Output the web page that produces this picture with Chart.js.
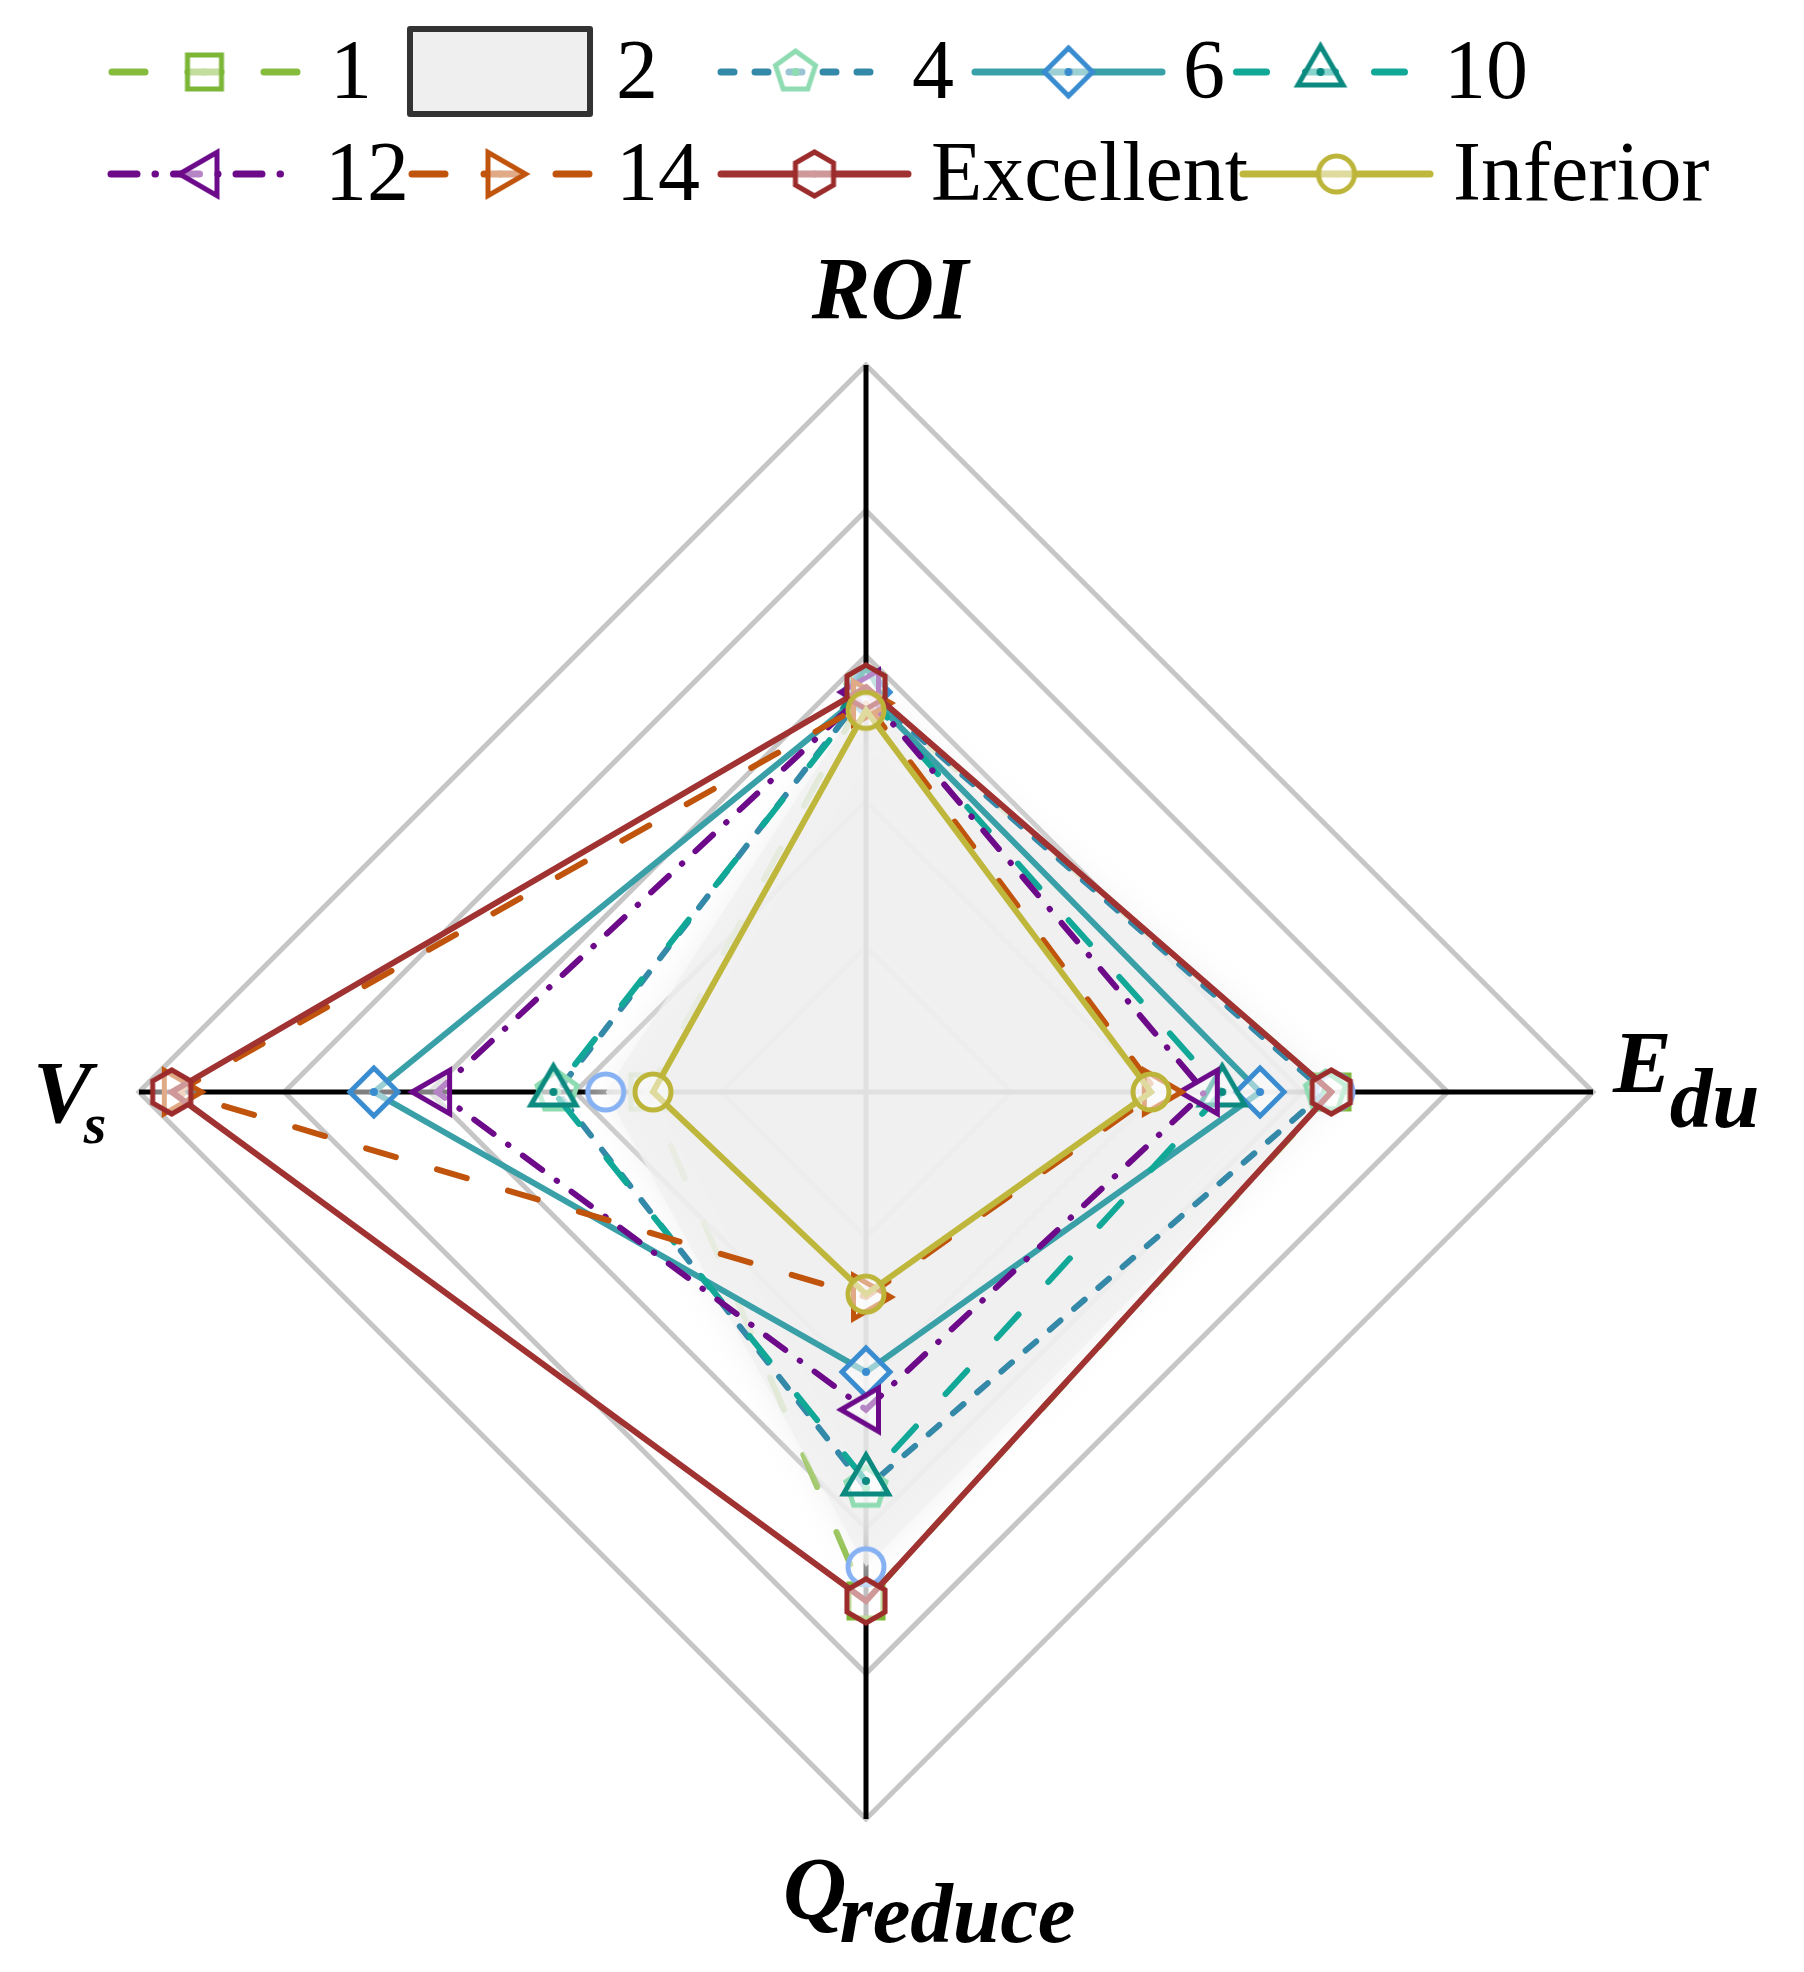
<!DOCTYPE html>
<html>
<head>
<meta charset="utf-8">
<script src="https://cdn.jsdelivr.net/npm/chart.js@4.4.1/dist/chart.umd.min.js"></script>
<style>
    html, body { margin: 0; padding: 0; background: #fff; }
    #wrap { position: relative; width: 1804px; height: 1972px; }
    #chart { position: absolute; left: 0; top: 0; }
    .sw { position: absolute; }
    .box { position: absolute; box-sizing: border-box; border: 6px solid #333; background: #efefef; border-radius: 3px; }
    .lt { position: absolute; font-family: "Liberation Serif", "Times New Roman", serif; font-size: 84px; line-height: 1; color: #000; white-space: nowrap; }
</style>
</head>
<body>
<div id="wrap">
    <canvas id="chart" width="1804" height="1972"></canvas>
    <div id="legend"></div>
</div>
<script>
// 軸ラベル (時計回り、上から)
const labels = ['ROI', 'Edu', 'Qreduce', 'Vs'];
const labelParts = [['ROI', ''], ['E', 'du'], ['Q', 'reduce'], ['V', 's']];
const gridTicks = [0, 0.2, 0.4, 0.6, 0.8, 1.0];

// 系列名
const seriesNames = ['1', '2', '4', '6', '10', '12', '14', 'Excellent', 'Inferior'];

// 各系列の値 [ROI, Edu, Qreduce, Vs]
const s1 = [0.55, 0.641, 0.70, 0.30];
const s2 = [0.55, 0.645, 0.653, 0.358];
const s4 = [0.552, 0.632, 0.545, 0.425];
const s6 = [0.55, 0.542, 0.385, 0.677];
const s10 = [0.548, 0.49, 0.535, 0.43];
const s12 = [0.55, 0.466, 0.437, 0.59];
const s14 = [0.535, 0.40, 0.282, 0.948];
const sExcellent = [0.557, 0.64, 0.70, 0.955];
const sInferior = [0.525, 0.392, 0.278, 0.293];

const seriesData = [s1, s2, s4, s6, s10, s12, s14, sExcellent, sInferior];

// 線とマーカーのスタイル (dash: グラフ用, ldash: 凡例用)
const styles = [
    { color: '#86bc3c', dash: [35, 49], ldash: [33, 43], marker: 'square', mcolor: '#7cb637' },
    { fill: 'rgba(240,240,240,0.75)', marker: 'circle', mcolor: '#86b2f4' },
    { color: '#3589a8', dash: [14, 18], ldash: [13, 21], marker: 'pentagon', mcolor: '#8fdcb2', dot: true },
    { color: '#3aa0a8', dash: [], ldash: [], marker: 'diamond', mcolor: '#3a8cd0', dot: true },
    { color: '#12a898', dash: [32, 44], ldash: [30, 39], marker: 'triangle', mcolor: '#0c8a80', dot: true },
    { color: '#6c0a8a', dash: [24, 18, 0.5, 18], ldash: [26, 18, 0.5, 18], fromLeft: true, marker: 'triLeft', mcolor: '#6c0a8a' },
    { color: '#c0540c', dash: [31, 43], ldash: [33, 39], marker: 'triRight', mcolor: '#c0540c' },
    { color: '#a03232', dash: [], ldash: [], marker: 'hexagon', mcolor: '#9c2c2c' },
    { color: '#bfb63c', dash: [], ldash: [], marker: 'circle', mcolor: '#bdb43a' }
];

// 凡例の配置 [swatch x, row y, text x]
const legendPos = [
    [107, 72, 330], [407, 72, 616], [698, 72, 912], [971, 72, 1183], [1223, 72, 1444],
    [107, 174, 325], [403, 174, 616], [717, 174, 931], [1239, 174, 1453]
];

// マーカーの形を描く関数
function markerPath(ctx, shape, x, y) {
    ctx.beginPath();
    if (shape === 'circle') {
        ctx.arc(x, y, 18, 0, Math.PI * 2);
    } else if (shape === 'square') {
        ctx.rect(x - 17, y - 17, 34, 34);
    } else {
        let n, r, a0;
        if (shape === 'diamond') { n = 4; r = 24; a0 = -90; }
        else if (shape === 'pentagon') { n = 5; r = 21; a0 = -90; }
        else if (shape === 'hexagon') { n = 6; r = 22; a0 = -90; }
        else if (shape === 'triangle') { n = 3; r = 26; a0 = -90; }
        else if (shape === 'triLeft') { n = 3; r = 25; a0 = 180; }
        else { n = 3; r = 25; a0 = 0; }
        for (let k = 0; k < n; k++) {
            const a = (a0 + 360 * k / n) * Math.PI / 180;
            const px = x + r * Math.cos(a), py = y + r * Math.sin(a);
            if (k === 0) ctx.moveTo(px, py); else ctx.lineTo(px, py);
        }
        ctx.closePath();
    }
}

// マーカー画像を作る関数
function makeMarker(st) {
    const c = document.createElement('canvas');
    c.width = 64; c.height = 64;
    const ctx = c.getContext('2d');
    markerPath(ctx, st.marker, 32, 32);
    ctx.fillStyle = 'rgba(255,255,255,0.5)';
    ctx.fill();
    ctx.lineWidth = 5;
    ctx.strokeStyle = st.mcolor;
    ctx.stroke();
    if (st.dot) {
        ctx.beginPath();
        ctx.arc(32, 32, 4, 0, Math.PI * 2);
        ctx.fillStyle = st.mcolor;
        ctx.fill();
    }
    return c;
}

const markers = styles.map(makeMarker);

// 凡例を作る
const legend = document.getElementById('legend');
seriesNames.forEach((name, i) => {
    const st = styles[i];
    const p = legendPos[i];
    if (st.fill) {
        const box = document.createElement('div');
        box.className = 'box';
        box.style.left = p[0] + 'px';
        box.style.top = (p[1] - 46) + 'px';
        box.style.width = '186px';
        box.style.height = '91px';
        legend.appendChild(box);
    } else {
        const c = document.createElement('canvas');
        c.className = 'sw';
        c.width = 195; c.height = 64;
        c.style.left = p[0] + 'px';
        c.style.top = (p[1] - 32) + 'px';
        const ctx = c.getContext('2d');
        ctx.strokeStyle = st.color;
        ctx.lineWidth = 7;
        ctx.lineCap = 'round';
        ctx.setLineDash(st.ldash);
        if (st.fromLeft) {
            // 左端から
            ctx.beginPath(); ctx.moveTo(4, 32); ctx.lineTo(191, 32); ctx.stroke();
        } else {
            // 中心から左右へ
            ctx.lineDashOffset = st.ldash.length ? st.ldash[0] / 2 : 0;
            ctx.beginPath(); ctx.moveTo(97.5, 32); ctx.lineTo(191, 32); ctx.stroke();
            ctx.beginPath(); ctx.moveTo(97.5, 32); ctx.lineTo(4, 32); ctx.stroke();
        }
        ctx.setLineDash([]);
        ctx.drawImage(markers[i], 97.5 - 32, 0);
        legend.appendChild(c);
    }
    const t = document.createElement('div');
    t.className = 'lt';
    t.textContent = name;
    t.style.left = p[2] + 'px';
    t.style.top = (p[1] + 26 - 70) + 'px';
    legend.appendChild(t);
});

// 塗りつぶし (系列2) のぼかし
const softFillPlugin = {
    id: 'softFill',
    afterDatasetDraw(chart, args) {
        // 系列2の直前に描かれる系列1の後で影を設定 -> filler がそのまま使う
        if (args.index === 0) {
            chart.ctx.shadowColor = 'rgba(236,236,236,1)';
            chart.ctx.shadowBlur = 34;
        }
    },
    beforeDatasetDraw(chart, args) {
        if (args.index === 1) {
            chart.ctx.shadowColor = 'rgba(0,0,0,0)';
            chart.ctx.shadowBlur = 0;
        }
    }
};

// 軸ラベル (下付き文字あり) を描くプラグイン
const axisLabelPlugin = {
    id: 'axisLabels',
    afterDraw(chart) {
        const scale = chart.scales.r;
        const ctx = chart.ctx;
        const pos = labels.map((l, i) => scale.getPointPosition(i, scale.drawingArea));
        const big = 'italic bold 88px "Liberation Serif"';
        ctx.save();
        ctx.fillStyle = '#000';
        ctx.textBaseline = 'alphabetic';

        // ROI
        ctx.font = big;
        ctx.textAlign = 'center';
        ctx.fillText(labelParts[0][0], pos[0].x + 24, pos[0].y - 47);

        ctx.textAlign = 'left';
        // E du
        let x = pos[1].x + 20;
        ctx.font = big;
        ctx.fillText(labelParts[1][0], x, pos[1].y);
        x += ctx.measureText(labelParts[1][0]).width - 2;
        ctx.font = 'italic bold 85px "Liberation Serif"';
        ctx.fillText(labelParts[1][1], x, pos[1].y + 35);

        // Q reduce
        x = pos[2].x - 83;
        ctx.font = big;
        ctx.fillText(labelParts[2][0], x, pos[2].y + 99);
        x += ctx.measureText(labelParts[2][0]).width - 7;
        ctx.font = 'italic bold 85px "Liberation Serif"';
        ctx.fillText(labelParts[2][1], x, pos[2].y + 123);

        // V s
        x = pos[3].x - 106;
        ctx.font = big;
        ctx.fillText(labelParts[3][0], x, pos[3].y + 30);
        x += ctx.measureText(labelParts[3][0]).width - 8;
        ctx.font = 'italic bold 58px "Liberation Serif"';
        ctx.fillText(labelParts[3][1], x, pos[3].y + 51);
        ctx.restore();
    }
};

document.addEventListener('DOMContentLoaded', function() {
    const datasets = seriesData.map((d, i) => {
        const st = styles[i];
        return {
            label: seriesNames[i],
            data: d,
            order: seriesData.length - i,
            borderColor: st.color || 'rgba(0,0,0,0)',
            borderWidth: 6,
            borderDash: st.dash || [],
            borderCapStyle: 'round',
            borderJoinStyle: 'miter',
            backgroundColor: st.fill || 'rgba(0,0,0,0)',
            fill: !!st.fill,
            pointStyle: markers[i],
            pointRadius: 20,
            pointHoverRadius: 20,
            tension: 0
        };
    });

    new Chart(document.getElementById('chart'), {
        type: 'radar',
        data: {
            labels: labels,
            datasets: datasets
        },
        options: {
            responsive: false,
            animation: false,
            devicePixelRatio: 1,
            layout: { padding: { left: 139, top: 365, right: 211, bottom: 153 } },
            plugins: {
                legend: { display: false },
                tooltip: { enabled: false }
            },
            scales: {
                r: {
                    min: 0,
                    max: 1,
                    afterBuildTicks: s => { s.ticks = gridTicks.map(v => ({ value: v })); },
                    ticks: { display: false, stepSize: 0.2 },
                    grid: { color: '#c6c6c6', lineWidth: 5 },
                    angleLines: { color: '#000', lineWidth: 5 },
                    pointLabels: { display: false }
                }
            }
        },
        plugins: [softFillPlugin, axisLabelPlugin]
    });
});
</script>
</body>
</html>
